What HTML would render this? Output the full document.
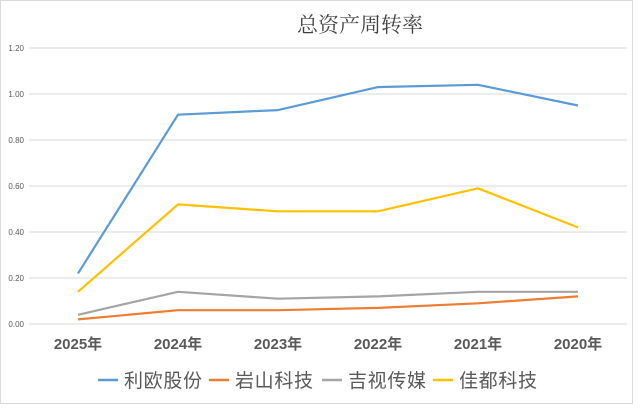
<!DOCTYPE html>
<html><head><meta charset="utf-8"><style>
html,body{margin:0;padding:0;background:#fff}
body{width:640px;height:406px;overflow:hidden;position:relative;font-family:"Liberation Sans","Noto Sans CJK SC",sans-serif}
</style></head><body>
<svg id="chart" width="640" height="406" viewBox="0 0 640 406" xmlns="http://www.w3.org/2000/svg">
<rect x="0.5" y="0.5" width="632" height="403" fill="#fff" stroke="#d9d9d9"/>
<text x="360" y="32" text-anchor="middle" font-size="21" fill="#404040" font-family="'Noto Serif CJK SC',serif">总资产周转率</text>
<g id="grid"></g><g id="series"></g><g id="legend"></g>
</svg>
<script>
const categories=["2025年","2024年","2023年","2022年","2021年","2020年"];
const yTicks=["0.00","0.20","0.40","0.60","0.80","1.00","1.20"];
const seriesNames=["利欧股份","岩山科技","吉视传媒","佳都科技"];
const liou=[0.22,0.91,0.93,1.03,1.04,0.95];
const yanshan=[0.02,0.06,0.06,0.07,0.09,0.12];
const jishi=[0.04,0.14,0.11,0.12,0.14,0.14];
const jiadu=[0.14,0.52,0.49,0.49,0.59,0.42];
const colors=["#5b9bd5","#ed7d31","#a5a5a5","#ffc000"];
const NS="http://www.w3.org/2000/svg";
const x=i=>78+i*100;
const y=v=>324-v*230;
const grid=document.getElementById('grid');
yTicks.forEach(t=>{
  const v=parseFloat(t);
  const l=document.createElementNS(NS,'line');
  l.setAttribute('x1',29);l.setAttribute('x2',627);l.setAttribute('y1',y(v));l.setAttribute('y2',y(v));
  l.setAttribute('stroke','#d9d9d9');l.setAttribute('stroke-width','1');
  
  
  grid.appendChild(l);
  const tx=document.createElementNS(NS,'text');
  tx.setAttribute('x',24);tx.setAttribute('y',y(v)+3);tx.setAttribute('text-anchor','end');
  tx.setAttribute('font-size','8');tx.setAttribute('fill','#595959');tx.textContent=t;
  
  
  grid.appendChild(tx);
});
categories.forEach((c,i)=>{
  const tx=document.createElementNS(NS,'text');
  tx.setAttribute('x',x(i));tx.setAttribute('y',349);tx.setAttribute('text-anchor','middle');
  tx.setAttribute('font-size','15');tx.setAttribute('font-weight','bold');tx.setAttribute('fill','#595959');tx.textContent=c;
  
  
  grid.appendChild(tx);
});
const data=[liou,yanshan,jishi,jiadu];
const sg=document.getElementById('series');
data.forEach((d,k)=>{
  const p=document.createElementNS(NS,'polyline');
  p.setAttribute('points',d.map((v,i)=>x(i)+','+y(v)).join(' '));
  p.setAttribute('fill','none');p.setAttribute('stroke',colors[k]);p.setAttribute('stroke-width','2.2');
  p.setAttribute('stroke-linejoin','round');
  
  
  sg.appendChild(p);
});
const lg=document.getElementById('legend');
const lx=[98,209,322,433];
seriesNames.forEach((n,k)=>{
  const l=document.createElementNS(NS,'line');
  l.setAttribute('x1',lx[k]);l.setAttribute('x2',lx[k]+20);l.setAttribute('y1',380);l.setAttribute('y2',380);
  l.setAttribute('stroke',colors[k]);l.setAttribute('stroke-width','2.5');
  
  
  lg.appendChild(l);
  const tx=document.createElementNS(NS,'text');
  tx.setAttribute('x',lx[k]+26);tx.setAttribute('y',387);tx.setAttribute('font-size','19');
  tx.setAttribute('fill','#595959');tx.setAttribute('textLength','78');tx.textContent=n;
  
  
  lg.appendChild(tx);
});
</script>
</body></html>
